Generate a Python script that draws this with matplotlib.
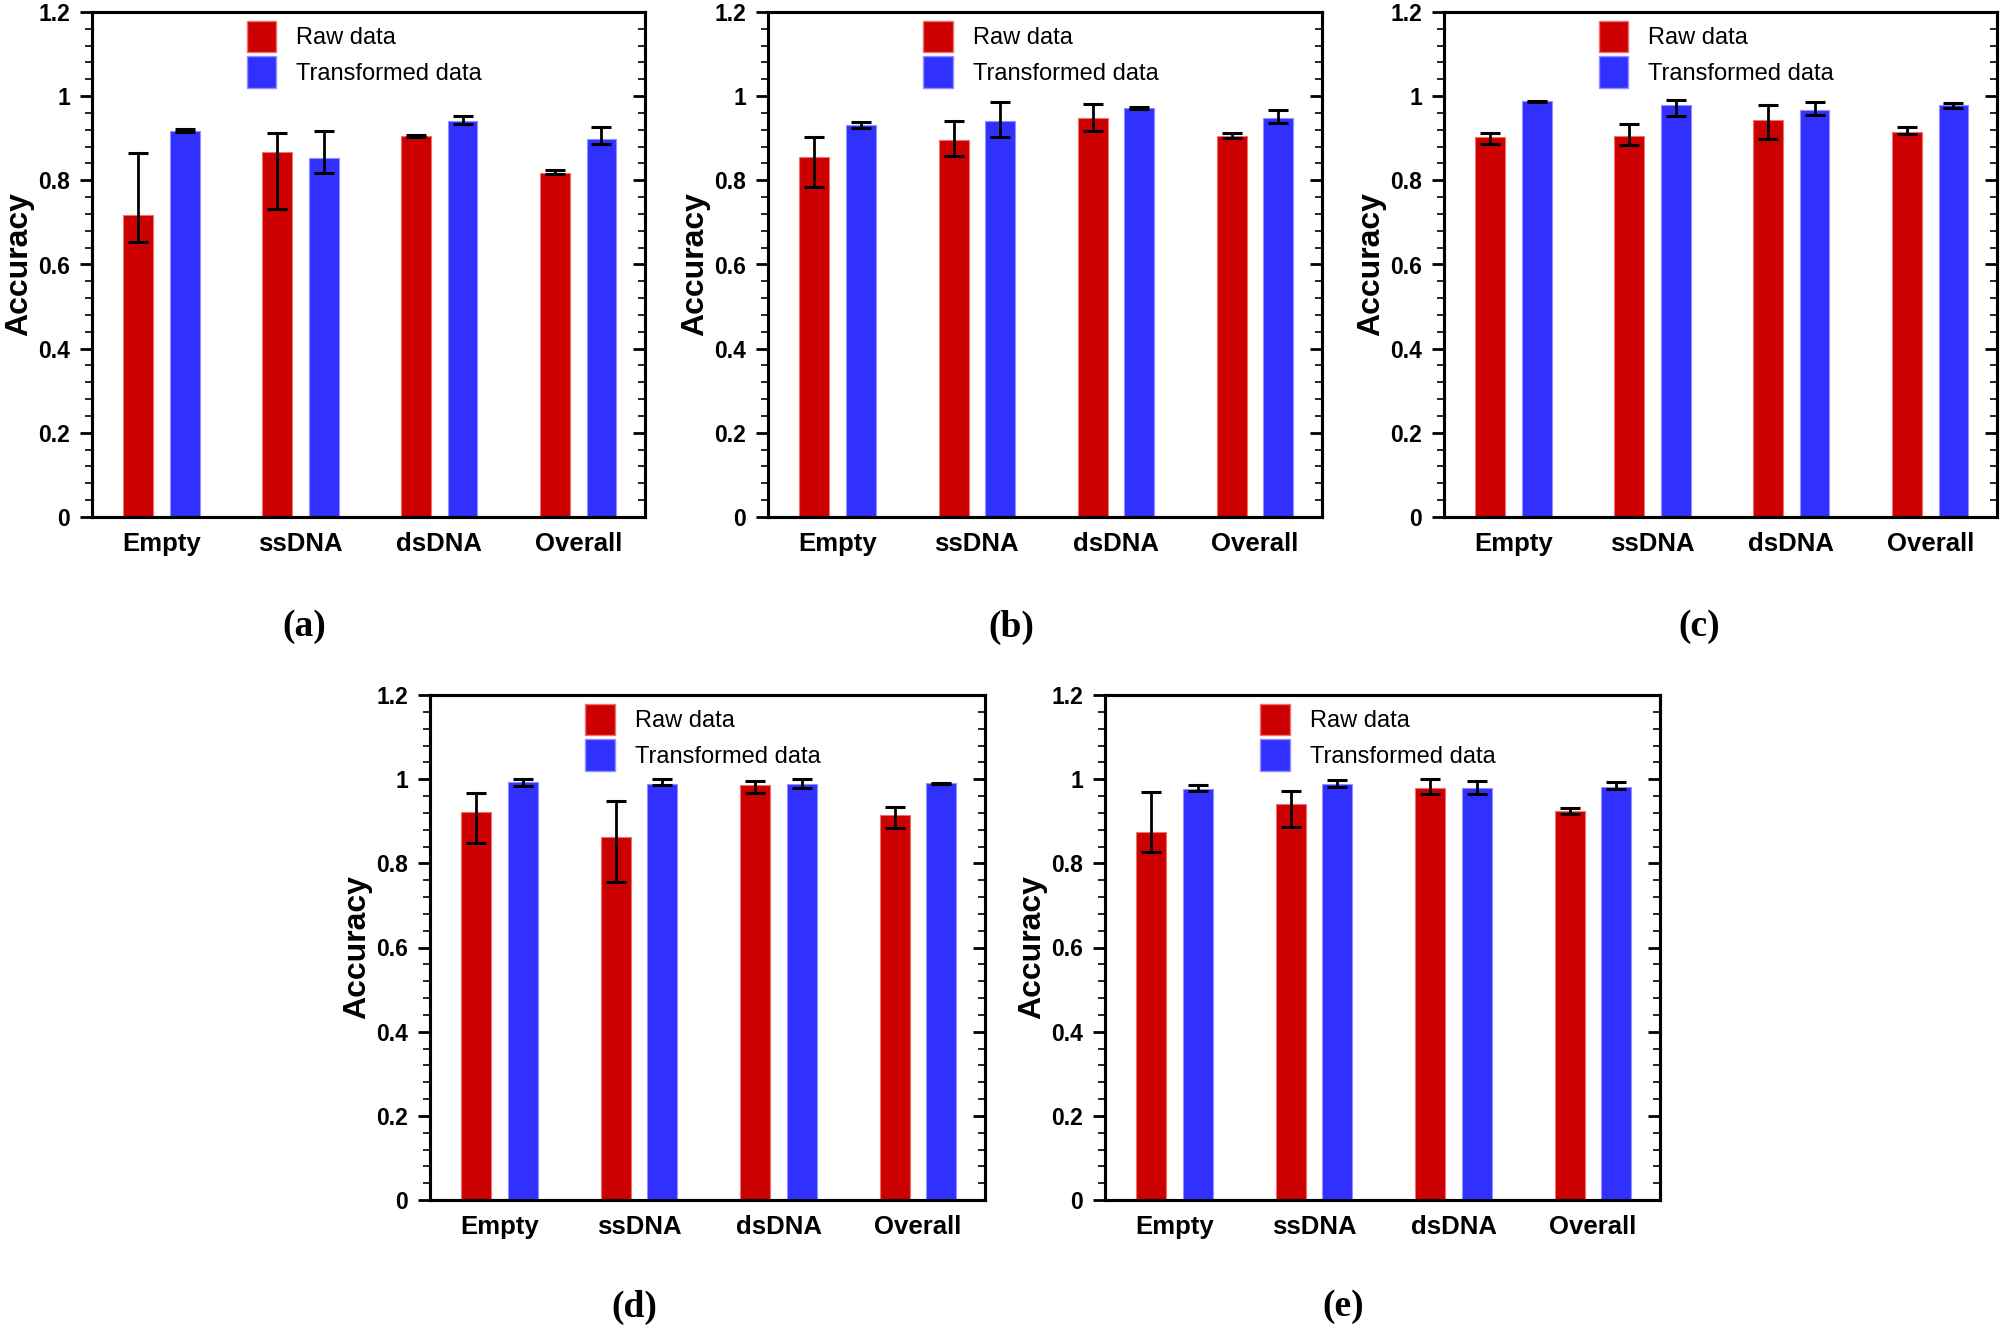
import numpy as np
import matplotlib.pyplot as plt
from matplotlib.patches import Patch
from matplotlib.ticker import MultipleLocator, FuncFormatter

plt.rcParams['font.family'] = ['Liberation Sans', 'DejaVu Sans']

categories = ['Empty', 'ssDNA', 'dsDNA', 'Overall']
panel_tags = ['(a)', '(b)', '(c)', '(d)', '(e)']

# bar heights, one row per panel (a)-(e)
raw_acc = [[0.717, 0.868, 0.905, 0.817],
           [0.855, 0.895, 0.949, 0.905],
           [0.903, 0.906, 0.944, 0.914],
           [0.922, 0.862, 0.985, 0.914],
           [0.874, 0.941, 0.979, 0.924]]
trans_acc = [[0.918, 0.852, 0.941, 0.899],
             [0.932, 0.941, 0.972, 0.949],
             [0.988, 0.978, 0.967, 0.978],
             [0.994, 0.989, 0.989, 0.990],
             [0.977, 0.989, 0.980, 0.982]]

# error bar ends (lower / upper)
raw_lo = [[0.654, 0.732, 0.903, 0.814],
          [0.783, 0.858, 0.918, 0.901],
          [0.886, 0.884, 0.898, 0.909],
          [0.849, 0.756, 0.968, 0.885],
          [0.827, 0.886, 0.965, 0.917]]
raw_hi = [[0.866, 0.913, 0.907, 0.824],
          [0.902, 0.941, 0.981, 0.913],
          [0.913, 0.934, 0.980, 0.927],
          [0.968, 0.949, 0.996, 0.933],
          [0.969, 0.973, 1.000, 0.932]]
trans_lo = [[0.916, 0.818, 0.935, 0.886],
            [0.925, 0.903, 0.970, 0.937],
            [0.987, 0.954, 0.955, 0.973],
            [0.984, 0.986, 0.978, 0.988],
            [0.972, 0.982, 0.965, 0.977]]
trans_hi = [[0.921, 0.917, 0.954, 0.926],
            [0.939, 0.985, 0.974, 0.967],
            [0.989, 0.992, 0.986, 0.984],
            [1.000, 1.000, 1.000, 0.992],
            [0.987, 0.997, 0.995, 0.993]]

RED = '#CC0000'
BLUE = '#3030FF'
W, H = 2000, 1330

# axes boxes in pixels: left, top, right, bottom
boxes = [(92, 12, 645, 517), (768, 12, 1322, 517), (1444, 12, 1997, 517),
         (430, 695, 985, 1200), (1105, 695, 1660, 1200)]
tag_pos = [(304, 627), (1011, 627), (1699, 627), (634, 1307), (1343, 1307)]


def tick_fmt(v, pos):
    s = f'{v:.1f}'
    return s[:-2] if s.endswith('.0') else s


def draw_panel(ax, i):
    x = np.arange(1, 5)
    raw = np.array(raw_acc[i])
    tr = np.array(trans_acc[i])
    off, w = 1 / 6, 0.215

    ax.bar(x - off, raw, width=w, color=RED, edgecolor='#F07070', linewidth=0.8, zorder=2)
    ax.bar(x + off, tr, width=w, color=BLUE, edgecolor='#9090FF', linewidth=0.8, zorder=2)
    ax.errorbar(x - off, raw, yerr=[raw - np.array(raw_lo[i]), np.array(raw_hi[i]) - raw],
                fmt='none', ecolor='black', elinewidth=2, capsize=7, capthick=2.2, zorder=3)
    ax.errorbar(x + off, tr, yerr=[tr - np.array(trans_lo[i]), np.array(trans_hi[i]) - tr],
                fmt='none', ecolor='black', elinewidth=2, capsize=7, capthick=2.2, zorder=3)

    ax.set_xlim(0.5, 4.48)
    ax.set_ylim(0, 1.2)
    ax.set_xticks(x)
    ax.set_xticklabels(categories, fontsize=18.5, fontweight='bold')
    ax.tick_params(axis='x', length=0, pad=11)

    ax.yaxis.set_major_locator(MultipleLocator(0.2))
    ax.yaxis.set_minor_locator(MultipleLocator(0.04))
    ax.yaxis.set_major_formatter(FuncFormatter(tick_fmt))
    ax.tick_params(axis='y', which='major', direction='out', length=9, width=2,
                   labelsize=16.5, pad=7)
    ax.tick_params(axis='y', which='minor', direction='out', length=5, width=1.2)
    for lab in ax.get_yticklabels():
        lab.set_fontweight('bold')

    # right side ticks point inward
    ax2 = ax.twinx()
    ax2.set_ylim(0, 1.2)
    ax2.yaxis.set_major_locator(MultipleLocator(0.2))
    ax2.yaxis.set_minor_locator(MultipleLocator(0.04))
    ax2.tick_params(axis='y', which='major', direction='in', length=9, width=2, labelright=False)
    ax2.tick_params(axis='y', which='minor', direction='in', length=5, width=1.2)

    for a in (ax, ax2):
        for sp in a.spines.values():
            sp.set_linewidth(2.2)

    ax.set_ylabel('Accuracy', fontsize=23, fontweight='bold')
    ax.yaxis.set_label_coords(-0.105, 0.5)

    handles = [Patch(facecolor=RED, edgecolor='#F07070'),
               Patch(facecolor=BLUE, edgecolor='#9090FF')]
    ax.legend(handles, ['Raw data', 'Transformed data'], loc='upper left',
              bbox_to_anchor=(0.28, 0.983), frameon=False, fontsize=17,
              handlelength=1.25, handleheight=1.7, handletextpad=0.85,
              labelspacing=0.17, borderpad=0, borderaxespad=0)


fig = plt.figure(figsize=(20, 13.3), dpi=100)

for i, (l, t, r, b) in enumerate(boxes):
    ax = fig.add_axes([l / W, 1 - b / H, (r - l) / W, (b - t) / H])
    draw_panel(ax, i)
    tx, ty = tag_pos[i]
    fig.text(tx / W, 1 - ty / H, panel_tags[i], fontsize=27, fontweight='bold',
             family=['Liberation Serif', 'DejaVu Serif'], ha='center', va='center')

fig.savefig('out.png', dpi=100, facecolor='white')
